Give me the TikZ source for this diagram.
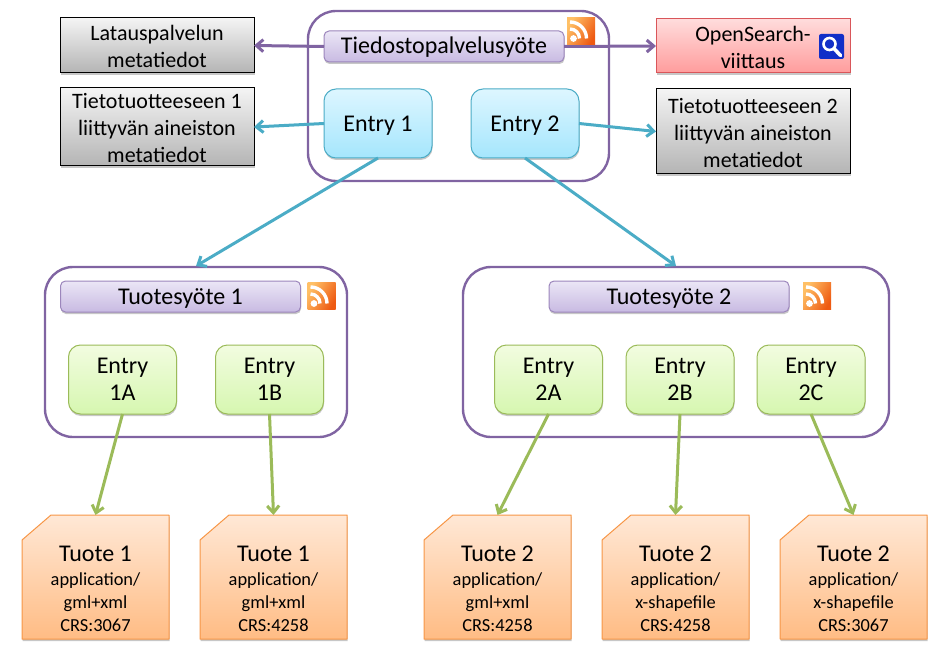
\documentclass[tikz,border=0pt]{standalone}
\usepackage{fontspec}
\setmainfont{Carlito}
\usetikzlibrary{arrows.meta,shadows}
\definecolor{purp}{HTML}{8064A2}
\definecolor{purpedge}{HTML}{9C86BC}
\definecolor{purptop}{HTML}{EBE6F6}
\definecolor{purpbot}{HTML}{C8BAE2}
\definecolor{blueedge}{HTML}{4BACC6}
\definecolor{bluetop}{HTML}{DDF6FF}
\definecolor{bluebot}{HTML}{A5E6FD}
\definecolor{greenedge}{HTML}{9BBB59}
\definecolor{greentop}{HTML}{F2FCE0}
\definecolor{greenbot}{HTML}{D6F7B0}
\definecolor{orangeedge}{HTML}{F79646}
\definecolor{orangetop}{HTML}{FFE8D6}
\definecolor{orangebot}{HTML}{FFBC84}
\definecolor{rededge}{HTML}{D9565A}
\definecolor{redtop}{HTML}{FFDCDC}
\definecolor{redbot}{HTML}{FF9C9C}
\definecolor{greytop}{HTML}{F4F4F4}
\definecolor{greybot}{HTML}{B4B4B4}
\definecolor{rsstop}{HTML}{FFC066}
\definecolor{rssbot}{HTML}{EE5A12}
\definecolor{lensblue}{HTML}{122FC8}
\newcommand{\bigtxt}{\fontsize{24}{27}\selectfont}
\newcommand{\midtxt}{\fontsize{22}{27}\selectfont}
\newcommand{\smalltxt}{\fontsize{18.4}{23}\selectfont}
\newcommand{\upstrut}{\rule{0pt}{18pt}}
\tikzset{
  softshadow/.style={drop shadow={shadow xshift=0.5pt,shadow yshift=-2pt,opacity=.22,fill=black}},
  basebox/.style={inner sep=0pt,outer sep=0pt,align=center,text=black,softshadow},
  container/.style={draw=purp,line width=2.4pt,rounded corners=28pt,fill=white,inner sep=0pt,outer sep=1pt},
  feedbox/.style={basebox,draw=purpedge,line width=1pt,rounded corners=5pt,top color=purptop,bottom color=purpbot,minimum width=240pt,minimum height=31pt,font=\bigtxt,text height=15pt,text depth=0pt},
  bentry/.style={basebox,draw=blueedge,line width=1pt,rounded corners=12pt,top color=bluetop,bottom color=bluebot,minimum width=108pt,minimum height=69pt,font=\bigtxt,text height=17pt,text depth=0pt},
  gentry/.style={basebox,draw=greenedge,line width=1pt,rounded corners=12pt,top color=greentop,bottom color=greenbot,minimum width=108pt,minimum height=69pt,font=\bigtxt},
  greybox/.style={basebox,draw=black,line width=1pt,top color=greytop,bottom color=greybot,minimum width=194pt,font=\midtxt,text depth=0pt},
  redbox/.style={basebox,draw=rededge,line width=1pt,top color=redtop,bottom color=redbot,minimum width=194pt,minimum height=54pt,font=\midtxt,text depth=0pt},
  docfill/.style={draw=orangeedge,line width=1pt,line join=round,top color=orangetop,bottom color=orangebot,softshadow},
  doctext/.style={inner sep=0pt,outer sep=0pt,minimum width=147pt,minimum height=124pt,font=\smalltxt,text=black},
  link/.style={line width=3pt,-{Straight Barb[length=7pt,width=12pt,line width=3pt]}},
  rss/.pic={
    \shade[left color=rsstop,right color=rssbot,shading angle=60] (-14,-13.5) rectangle (14,13.5);
    \fill[white] (-7.5,-7.5) circle (3.4);
    \draw[white,line width=3.4pt] (-11,2) arc[start angle=90,end angle=0,radius=9.5];
    \draw[white,line width=3.4pt] (-11,9) arc[start angle=90,end angle=0,radius=16.5];
  },
  lens/.pic={
    \fill[lensblue,rounded corners=2pt] (-12.5,-12.5) rectangle (12.5,12.5);
    \draw[white,line width=2.6pt] (-2,2.5) circle (6);
    \draw[white,line width=3.6pt,line cap=round] (2.5,-2) -- (9,-9);
  }
}
\newcommand{\docnode}[5]{%
  \path[docfill,shift={(#2,-577)}] (-44.5,62) -- (73.5,62) -- (73.5,-62) -- (-73.5,-62) -- (-73.5,37) -- cycle;
  \node[doctext] (#1) at (#2,-577) {\makebox[0pt]{\raisebox{-19pt}[0pt][0pt]{\begin{tabular}{@{}c@{}}{\bigtxt #3}\\[1pt] application/\\#4\\#5\end{tabular}}}};
}
\begin{document}
\begin{tikzpicture}[x=1pt,y=1pt]
\useasboundingbox (0,0) rectangle (944,-655);
% containers
\node[container,minimum width=301pt,minimum height=170pt] (topc) at (458.5,-96) {};
\node[container,minimum width=302pt,minimum height=170pt] (c1) at (196,-352) {};
\node[container,minimum width=426pt,minimum height=170pt] (c2) at (676,-352) {};
% top row
\node[feedbox] (feed) at (444,-46.5) {Tiedostopalvelusyöte};
\node[bentry] (e1) at (378,-123.5) {Entry 1};
\node[bentry] (e2) at (525,-123.5) {Entry 2};
\node[greybox,minimum height=55pt] (lat) at (157,-45.5) {\upstrut Latauspalvelun\\metatiedot};
\node[greybox,minimum height=78pt] (t1) at (157,-127) {\upstrut Tietotuotteeseen 1\\liittyvän aineiston\\metatiedot};
\node[redbox] (os) at (753,-46) {\upstrut OpenSearch-\\viittaus};
\node[greybox,minimum height=85pt] (t2) at (753,-131.5) {\upstrut Tietotuotteeseen 2\\liittyvän aineiston\\metatiedot};
% feeds
\node[feedbox] (f1) at (180.5,-296.5) {Tuotesyöte 1};
\node[feedbox] (f2) at (669,-296.5) {Tuotesyöte 2};
% entries
\node[gentry] (a1) at (122.5,-379.5) {Entry\\1A};
\node[gentry] (b1) at (269.5,-379.5) {Entry\\1B};
\node[gentry] (a2) at (548.5,-379.5) {Entry\\2A};
\node[gentry] (b2) at (680,-379.5) {Entry\\2B};
\node[gentry] (c2e) at (811,-379.5) {Entry\\2C};
% products
\docnode{d1}{95.5}{Tuote 1}{gml+xml}{CRS:3067}
\docnode{d2}{273.5}{Tuote 1}{gml+xml}{CRS:4258}
\docnode{d3}{497.5}{Tuote 2}{gml+xml}{CRS:4258}
\docnode{d4}{675.5}{Tuote 2}{x-shapefile}{CRS:4258}
\docnode{d5}{853.5}{Tuote 2}{x-shapefile}{CRS:3067}
% connectors
\draw[link,purp] (feed.west) -- (lat.east);
\draw[link,purp] (feed.east) -- (os.west);
\draw[link,blueedge] (e1.west) -- (t1.east);
\draw[link,blueedge] (e2.east) -- (t2.west);
\draw[link,blueedge] (e1.south) -- (c1.north);
\draw[link,blueedge] (e2.south) -- (c2.north);
\draw[link,greenedge] (a1.south) -- (d1.north);
\draw[link,greenedge] (b1.south) -- (d2.north);
\draw[link,greenedge] (a2.south) -- (d3.north);
\draw[link,greenedge] (b2.south) -- (d4.north);
\draw[link,greenedge] (c2e.south) -- (d5.north);
% icons
\pic at (581,-31) {rss};
\pic at (321.5,-296) {rss};
\pic at (817,-296) {rss};
\pic at (831.5,-46.5) {lens};
\end{tikzpicture}
\end{document}
